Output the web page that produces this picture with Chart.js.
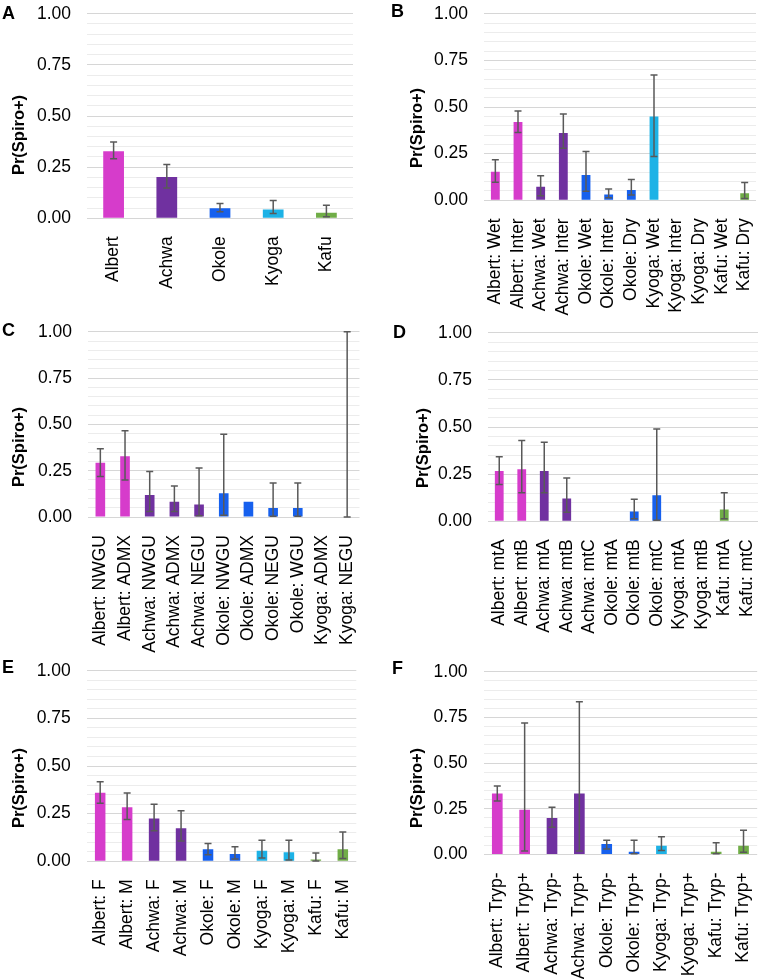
<!DOCTYPE html>
<html>
<head>
<meta charset="utf-8">
<script src="https://cdn.jsdelivr.net/npm/chart.js@4.4.0/dist/chart.umd.min.js"></script>
<style>
  body { margin: 0; background: #fff; font-family: "Liberation Sans", Arial, sans-serif; }
  #wrap { position: relative; width: 758px; height: 979px; overflow: hidden; }
  canvas { position: absolute; }
  .letter { position: absolute; font-weight: bold; font-size: 18px; line-height: 18px; color: #000; }
  .ytitle { position: absolute; font-weight: bold; font-size: 16.5px; line-height: 18px; white-space: nowrap;
            color: #000; transform: translate(-50%, -50%) rotate(-90deg); }
</style>
</head>
<body>
<div id="wrap"></div>
<script>
// ---- data ----
const labelsA = ['Albert', 'Achwa', 'Okole', 'Kyoga', 'Kafu'];
const valuesA = [0.328, 0.202, 0.049, 0.043, 0.027];
const lowA    = [0.291, 0.148, 0.032, 0.024, 0.008];
const highA   = [0.373, 0.263, 0.072, 0.087, 0.064];

const labelsB = ['Albert: Wet', 'Albert: Inter', 'Achwa: Wet', 'Achwa: Inter', 'Okole: Wet', 'Okole: Inter',
                 'Okole: Dry', 'Kyoga: Wet', 'Kyoga: Inter', 'Kyoga: Dry', 'Kafu: Wet', 'Kafu: Dry'];
const valuesB = [0.153, 0.420, 0.073, 0.361, 0.136, 0.031, 0.055, 0.449, 0, 0, 0, 0.038];
const lowB    = [0.097, 0.364, 0.024, 0.279, 0.049, 0.014, 0.028, 0.235, null, null, null, 0.010];
const highB   = [0.217, 0.479, 0.132, 0.462, 0.261, 0.061, 0.111, 0.671, null, null, null, 0.096];

const labelsC = ['Albert: NWGU', 'Albert: ADMX', 'Achwa: NWGU', 'Achwa: ADMX', 'Achwa: NEGU', 'Okole: NWGU',
                 'Okole: ADMX', 'Okole: NEGU', 'Okole: WGU', 'Kyoga: ADMX', 'Kyoga: NEGU'];
const valuesC = [0.293, 0.328, 0.119, 0.082, 0.067, 0.128, 0.082, 0.049, 0.049, 0, 0];
const lowC    = [0.219, 0.200, 0.030, 0.030, 0.007, 0.009, null, 0.004, 0.004, null, 0];
const highC   = [0.368, 0.465, 0.246, 0.168, 0.265, 0.447, null, 0.184, 0.184, null, 1.0];

const labelsD = ['Albert: mtA', 'Albert: mtB', 'Achwa: mtA', 'Achwa: mtB', 'Achwa: mtC', 'Okole: mtA',
                 'Okole: mtB', 'Okole: mtC', 'Kyoga: mtA', 'Kyoga: mtB', 'Kafu: mtA', 'Kafu: mtC'];
const valuesD = [0.267, 0.276, 0.267, 0.121, 0, 0, 0.052, 0.138, 0, 0, 0.062, 0];
const lowD    = [0.195, 0.152, 0.152, 0.048, null, null, 0.014, 0.005, null, null, 0.014, null];
const highD   = [0.343, 0.428, 0.419, 0.229, null, null, 0.117, 0.490, null, null, 0.152, null];

const labelsE = ['Albert: F', 'Albert: M', 'Achwa: F', 'Achwa: M', 'Okole: F', 'Okole: M',
                 'Kyoga: F', 'Kyoga: M', 'Kafu: F', 'Kafu: M'];
const valuesE = [0.360, 0.283, 0.225, 0.174, 0.063, 0.038, 0.055, 0.048, 0.010, 0.063];
const lowE    = [0.305, 0.220, 0.160, 0.106, 0.034, 0.012, 0.017, 0.007, 0.002, 0.015];
const highE   = [0.418, 0.358, 0.299, 0.265, 0.094, 0.077, 0.111, 0.111, 0.044, 0.154];

const labelsF = ['Albert: Tryp-', 'Albert: Tryp+', 'Achwa: Tryp-', 'Achwa: Tryp+', 'Okole: Tryp-', 'Okole: Tryp+',
                 'Kyoga: Tryp-', 'Kyoga: Tryp+', 'Kafu: Tryp-', 'Kafu: Tryp+'];
const valuesF = [0.333, 0.244, 0.199, 0.333, 0.057, 0.014, 0.048, 0, 0.014, 0.048];
const lowF    = [0.292, 0.018, 0.149, 0.018, 0.030, 0.004, 0.021, null, 0.004, 0.012];
const highF   = [0.374, 0.719, 0.258, 0.836, 0.078, 0.078, 0.096, null, 0.064, 0.132];

const yTitle = 'Pr(Spiro+)';

// site colours
const siteColors = {
  Albert: '#d63ccb',
  Achwa: '#7031a0',
  Okole: '#1660ee',
  Kyoga: '#1db2e6',
  Kafu: '#70ad47'
};

// panel placement on the page
const panels = [
  { letter: 'A', labels: labelsA, values: valuesA, low: lowA, high: highA, col: 0,
    plot: { l: 87, r: 353, t: 9, b: 218.3 }, title: [18.3, 135], letterPos: [2, 3.7] },
  { letter: 'B', labels: labelsB, values: valuesB, low: lowB, high: highB, col: 379,
    plot: { l: 484, r: 756, t: 9, b: 200.3 }, title: [415.7, 127.5], letterPos: [391, 1.8] },
  { letter: 'C', labels: labelsC, values: valuesC, low: lowC, high: highC, col: 0,
    plot: { l: 88, r: 359.5, t: 326.7, b: 516.7 }, title: [18.3, 447], letterPos: [2, 321] },
  { letter: 'D', labels: labelsD, values: valuesD, low: lowD, high: highD, col: 379,
    plot: { l: 488, r: 758, t: 327.7, b: 521 }, title: [422.3, 448.3], letterPos: [393, 322.7] },
  { letter: 'E', labels: labelsE, values: valuesE, low: lowE, high: highE, col: 0,
    plot: { l: 86.7, r: 356.3, t: 666, b: 861.3 }, title: [18.3, 788.3], letterPos: [2, 657.7] },
  { letter: 'F', labels: labelsF, values: valuesF, low: lowF, high: highF, col: 379,
    plot: { l: 483.6, r: 757.2, t: 667.3, b: 854.7 }, title: [415.7, 787.5], letterPos: [392, 658.7] }
];

// draws the confidence intervals on top of the bars
const errorBars = {
  id: 'errorBars',
  afterDatasetsDraw(chart) {
    const ds = chart.data.datasets[0];
    const xs = chart.scales.x, ys = chart.scales.y;
    const ctx = chart.ctx;
    ctx.save();
    ctx.strokeStyle = '#595959';
    ctx.lineWidth = 1.5;
    ds.errLow.forEach((lo, i) => {
      const hi = ds.errHigh[i];
      if (lo == null || hi == null) return;
      const px = xs.getPixelForValue(i);
      const y1 = ys.getPixelForValue(lo);
      const y2 = ys.getPixelForValue(hi);
      ctx.beginPath();
      ctx.moveTo(px, y1); ctx.lineTo(px, y2);
      ctx.moveTo(px - 3.5, y1); ctx.lineTo(px + 3.5, y1);
      ctx.moveTo(px - 3.5, y2); ctx.lineTo(px + 3.5, y2);
      ctx.stroke();
    });
    ctx.restore();
  }
};

const isMajor = v => Math.round(v * 100) % 25 === 0;

const wrap = document.getElementById('wrap');
const CW = 400, CH = 360, TOP_PAD = 20, Y_W = 50;

panels.forEach(p => {
  const canvas = document.createElement('canvas');
  canvas.width = CW;
  canvas.height = CH;
  const top = p.plot.t - TOP_PAD;
  canvas.style.left = p.col + 'px';
  canvas.style.top = top + 'px';
  wrap.appendChild(canvas);

  const plotH = p.plot.b - p.plot.t;

  new Chart(canvas.getContext('2d'), {
    type: 'bar',
    data: {
      labels: p.labels,
      datasets: [{
        data: p.values,
        errLow: p.low,
        errHigh: p.high,
        backgroundColor: p.labels.map(l => siteColors[l.split(':')[0]]),
        borderWidth: 0,
        barPercentage: 0.39,
        categoryPercentage: 1
      }]
    },
    options: {
      responsive: false,
      animation: false,
      layout: {
        padding: {
          left: p.plot.l - p.col - Y_W,
          right: p.col + CW - p.plot.r,
          top: TOP_PAD,
          bottom: 0
        }
      },
      plugins: { legend: { display: false }, tooltip: { enabled: false } },
      scales: {
        x: {
          grid: { display: false },
          border: { display: false },
          ticks: {
            color: '#000',
            font: { family: '"Liberation Sans", Arial, sans-serif', size: 17.5 },
            minRotation: 90,
            maxRotation: 90,
            autoSkip: false,
            padding: 10
          },
          afterFit: s => { s.height = CH - TOP_PAD - plotH; }
        },
        y: {
          min: 0,
          max: 1,
          border: { display: false },
          grid: {
            drawTicks: false,
            color: c => (c.tick && isMajor(c.tick.value)) ? '#d6d6d6' : '#ececec',
            lineWidth: 1
          },
          ticks: {
            stepSize: 0.05,
            autoSkip: false,
            padding: 16,
            color: '#000',
            font: { family: '"Liberation Sans", Arial, sans-serif', size: 17.5, lineHeight: 1 },
            callback: v => isMajor(v) ? v.toFixed(2) : ''
          },
          afterFit: s => { s.width = Y_W; }
        }
      }
    },
    plugins: [errorBars]
  });

  const letter = document.createElement('div');
  letter.className = 'letter';
  letter.textContent = p.letter;
  letter.style.left = p.letterPos[0] + 'px';
  letter.style.top = p.letterPos[1] + 'px';
  wrap.appendChild(letter);

  const title = document.createElement('div');
  title.className = 'ytitle';
  title.textContent = yTitle;
  title.style.left = p.title[0] + 'px';
  title.style.top = p.title[1] + 'px';
  wrap.appendChild(title);
});
</script>
</body>
</html>
